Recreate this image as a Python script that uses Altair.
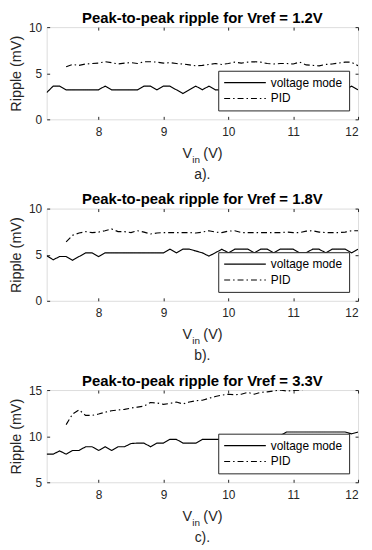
import altair as alt
import pandas as pd

VIN = [7.2, 7.3, 7.4, 7.5, 7.6, 7.7, 7.8, 7.9, 8.0, 8.1,
       8.2, 8.3, 8.4, 8.5, 8.6, 8.7, 8.8, 8.9, 9.0, 9.1,
       9.2, 9.3, 9.4, 9.5, 9.6, 9.7, 9.8, 9.9, 10.0, 10.1,
       10.2, 10.3, 10.4, 10.5, 10.6, 10.7, 10.8, 10.9, 11.0, 11.1,
       11.2, 11.3, 11.4, 11.5, 11.6, 11.7, 11.8, 11.9, 12.0]

A_VM = [2.9, 3.6, 3.6, 3.2, 3.2, 3.2, 3.2, 3.2, 3.2, 3.6,
        3.2, 3.2, 3.2, 3.2, 3.2, 3.6, 3.6, 3.2, 3.6, 3.6,
        3.2, 2.8, 3.2, 3.6, 3.2, 3.6, 3.2, 3.2, 3.2, 3.6,
        3.2, 3.2, 3.6, 3.2, 3.2, 3.6, 3.2, 3.2, 3.2, 3.6,
        3.2, 3.2, 3.6, 3.2, 3.2, 3.2, 3.2, 3.6, 3.2]
A_PID = [None, None, None, 5.7, 5.95, 5.85, 6.0, 6.05, 6.1, 6.25,
         6.15, 6.0, 6.1, 6.15, 6.05, 6.25, 6.25, 6.2, 6.1, 6.15,
         6.05, 6.0, 5.9, 5.8, 5.85, 5.95, 6.05, 5.95, 6.05, 6.2,
         6.1, 6.2, 6.25, 6.2, 6.05, 6.0, 6.05, 6.05, 6.0, 6.2,
         5.9, 5.85, 5.8, 5.95, 6.0, 6.1, 6.2, 6.2, 5.8]

B_VM = [4.9, 4.45, 4.8, 4.8, 4.4, 4.8, 5.2, 5.2, 4.8, 5.2,
        5.2, 5.2, 5.2, 5.2, 5.2, 5.2, 5.2, 5.2, 5.2, 5.6,
        5.2, 5.6, 5.6, 5.4, 5.2, 4.85, 5.2, 5.6, 5.2, 5.6,
        5.6, 5.6, 5.2, 5.6, 5.6, 5.2, 5.6, 5.6, 5.6, 5.2,
        5.2, 5.6, 5.6, 5.2, 5.6, 5.6, 5.6, 5.2, 5.6]
B_PID = [None, None, None, 6.4, 7.1, 7.35, 7.5, 7.4, 7.45, 7.6,
         7.8, 7.5, 7.5, 7.4, 7.6, 7.45, 7.25, 7.35, 7.4, 7.4,
         7.4, 7.4, 7.4, 7.35, 7.45, 7.6, 7.45, 7.4, 7.55, 7.6,
         7.4, 7.4, 7.4, 7.4, 7.4, 7.4, 7.4, 7.45, 7.4, 7.4,
         7.55, 7.6, 7.45, 7.4, 7.4, 7.4, 7.45, 7.6, 7.6]

C_VM = [8.05, 8.05, 8.4, 8.05, 8.45, 8.45, 8.85, 8.85, 8.45, 8.85,
        8.45, 8.85, 8.85, 9.2, 9.25, 9.25, 8.85, 9.25, 9.25, 9.65,
        9.65, 9.25, 9.25, 9.25, 9.65, 9.65, 9.65, 9.65, 9.65, 9.65,
        9.65, 9.65, 9.65, 10.05, 10.05, 10.05, 10.05, 10.45, 10.45, 10.45,
        10.45, 10.45, 10.45, 10.45, 10.45, 10.45, 10.45, 10.25, 10.45]
C_PID = [None, None, None, 11.25, 12.4, 12.85, 12.25, 12.25, 12.4, 12.6,
         12.75, 12.85, 12.9, 13.05, 13.15, 13.25, 13.65, 13.6, 13.45, 13.55,
         13.7, 13.5, 13.7, 13.85, 13.9, 14.1, 14.3, 14.45, 14.55, 14.5,
         14.55, 14.75, 14.55, 14.75, 14.8, 14.9, 15.0, 14.9, 14.95, 15.0,
         15.1, 15.2, 15.3, 15.35, 15.4, 15.5, 15.55, 15.6, 15.7]

SERIES = ["voltage mode", "PID"]
X_TICKS = [8, 9, 10, 11, 12]
TITLES = ["Peak-to-peak ripple for Vref = 1.2V",
          "Peak-to-peak ripple for Vref = 1.8V",
          "Peak-to-peak ripple for Vref = 3.3V"]
CAPTIONS = ["a).", "b).", "c)."]
Y_DOMAINS = [[0, 10], [0, 10], [5, 15]]
Y_TICKS = [[0, 5, 10], [0, 5, 10], [5, 10, 15]]

FONT = "Liberation Sans"
INK = "#262626"
W, H = 314, 93


def label(text, x, y, size, align="left", weight="normal", color=INK):
    return alt.Chart(pd.DataFrame({"t": [text]})).mark_text(
        align=align, baseline="alphabetic", font=FONT, fontSize=size,
        fontWeight=weight, color=color).encode(
        text="t:N", x=alt.value(x), y=alt.value(y))


def panel(vm, pid, ydom, yticks, title, caption):
    rows = []
    for x, v in zip(VIN, vm):
        rows.append({"vin": x, "ripple": v, "series": SERIES[0]})
    for x, v in zip(VIN, pid):
        if v is not None:
            rows.append({"vin": x, "ripple": v, "series": SERIES[1]})
    df = pd.DataFrame(rows)
    xs = alt.Scale(domain=[7.2, 12], nice=False, zero=False)
    ys = alt.Scale(domain=ydom, nice=False, zero=False)
    common = dict(grid=False, domain=False, tickSize=3, offset=-3,
                  tickColor=INK, labelFont=FONT, labelFontSize=12,
                  labelColor=INK)
    lines = alt.Chart(df).mark_line(color="black", strokeWidth=1.15, clip=True).encode(
        x=alt.X("vin:Q", scale=xs,
                axis=alt.Axis(orient="bottom", values=X_TICKS, title=None,
                              labelPadding=7, **common)),
        y=alt.Y("ripple:Q", scale=ys,
                axis=alt.Axis(orient="left", values=yticks, title="Ripple (mV)",
                              labelPadding=5, titleFont=FONT, titleFontSize=14.5,
                              titleFontWeight="normal", titleColor=INK,
                              titlePadding=5, **common)),
        strokeDash=alt.StrokeDash(
            "series:N",
            scale=alt.Scale(domain=SERIES, range=[[1, 0], [6, 3, 1.5, 3]]),
            legend=alt.Legend(title=None, orient="bottom-right", offset=9,
                              fillColor="white", strokeColor=INK, padding=6,
                              symbolType="M-3,0H18", symbolSize=16,
                              symbolStrokeWidth=1.1, symbolStrokeColor="black",
                              labelOffset=35, labelFont=FONT, labelFontSize=12,
                              labelColor="black", rowPadding=4)),
    )
    frame = alt.Chart(df).mark_point(opacity=0, clip=True).encode(
        x=alt.X("vin:Q", scale=xs,
                axis=alt.Axis(orient="top", values=X_TICKS, title=None,
                              labels=False, **common)),
        y=alt.Y("ripple:Q", scale=ys,
                axis=alt.Axis(orient="right", values=yticks, title=None,
                              labels=False, **common)),
    )
    texts = [
        label(title, W / 2, -4.5, 15, align="center", weight="bold", color="black"),
        label("V", 137, 132, 14.5),
        label("in", 146.8, 137, 10),
        label("(V)", 158, 132, 14.5),
        label(caption, W / 2, 153, 14, align="center"),
    ]
    return alt.layer(lines, frame, *texts).properties(width=W, height=H)


panels = [panel(vm, pid, yd, yt, ti, ca) for vm, pid, yd, yt, ti, ca in
          zip([A_VM, B_VM, C_VM], [A_PID, B_PID, C_PID], Y_DOMAINS, Y_TICKS,
              TITLES, CAPTIONS)]

chart = alt.vconcat(*panels, spacing=9).resolve_scale(
    strokeDash="independent").resolve_legend(strokeDash="independent").properties(
    padding={"left": 0, "top": 0, "right": 5, "bottom": 0}
).configure_view(stroke=INK, strokeWidth=1).configure(background="white")

chart.save("out.html", embed_options={"renderer": "svg", "actions": False})
